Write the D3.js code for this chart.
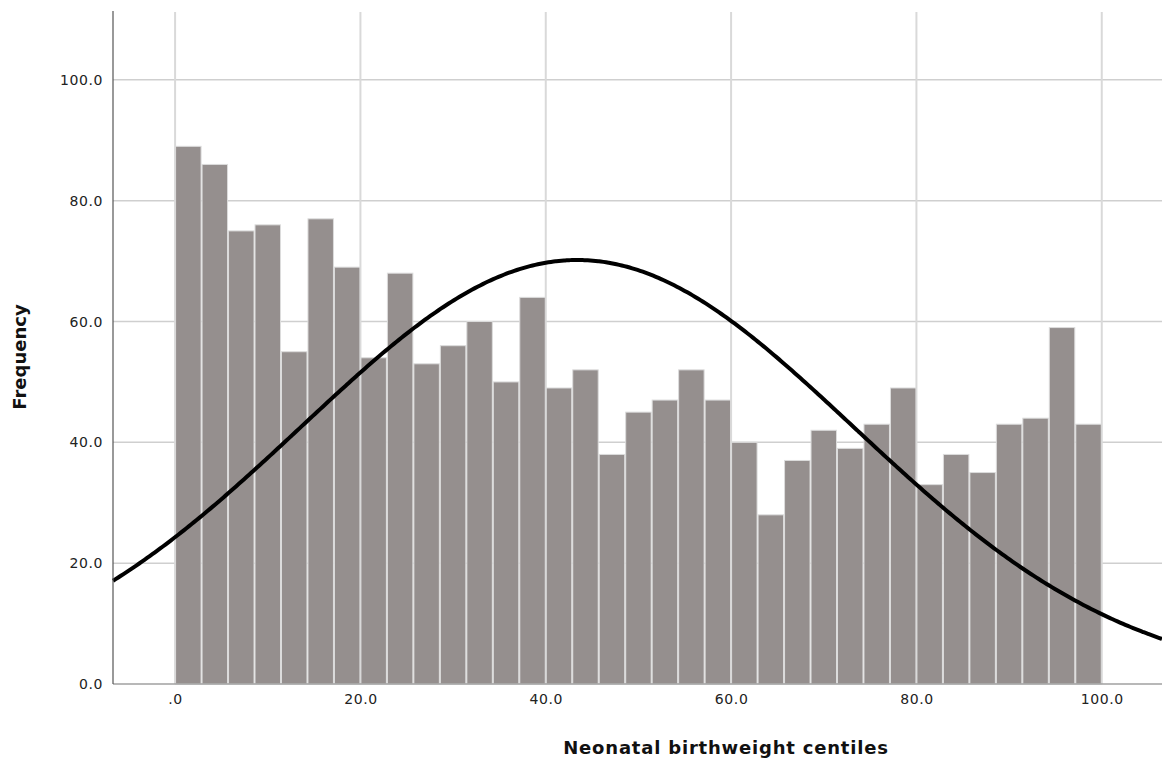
<!DOCTYPE html>
<html>
<head>
<meta charset="utf-8">
<script src="https://cdn.jsdelivr.net/npm/d3@7"></script>
<style>
  html, body { margin: 0; padding: 0; background: #fff; }
  svg { display: block; }
</style>
</head>
<body>
<svg id="chart" width="1162" height="762"></svg>
<script>
// Histogram of neonatal birthweight centiles (35 bins from 0 to 100)
const binStart = 0;
const binEnd = 100;
const frequencies = [89, 86, 75, 76, 55, 77, 69, 54, 68, 53, 56, 60, 50, 64, 49, 52, 38, 45,
                     47, 52, 47, 40, 28, 37, 42, 39, 43, 49, 33, 38, 35, 43, 44, 59, 43];
const xTicks = [0, 20, 40, 60, 80, 100];
const yTicks = [0, 20, 40, 60, 80, 100];
// Fitted normal curve parameters
const curveMean = 43.4;
const curveSD = 29.8;

const svg = d3.select("#chart");
const plotLeft = 113, plotRight = 1162, plotTop = 11, plotBottom = 684;

const x = d3.scaleLinear().domain([-6.7, 106.5]).range([plotLeft, plotRight]);
const y = d3.scaleLinear().domain([0, 111.4]).range([plotBottom, plotTop]);

const binWidth = (binEnd - binStart) / frequencies.length;
const bins = frequencies.map((f, i) => ({ x0: binStart + i * binWidth, x1: binStart + (i + 1) * binWidth, f }));

// Grid lines
svg.append("g").selectAll("line").data(yTicks.filter(d => d > 0)).join("line")
  .attr("x1", plotLeft).attr("x2", plotRight)
  .attr("y1", d => y(d)).attr("y2", d => y(d))
  .attr("stroke", "#cfcfcf").attr("stroke-width", 1.5);
svg.append("g").selectAll("line").data(xTicks).join("line")
  .attr("x1", d => x(d)).attr("x2", d => x(d))
  .attr("y1", plotTop + 1).attr("y2", plotBottom)
  .attr("stroke", "#d9d9d9").attr("stroke-width", 2);

// Bars
svg.append("g").selectAll("rect").data(bins).join("rect")
  .attr("x", d => x(d.x0) + 0.5)
  .attr("width", d => x(d.x1) - x(d.x0) - 1)
  .attr("y", d => y(d.f))
  .attr("height", d => y(0) - y(d.f))
  .attr("fill", "#958f8e")
  .attr("stroke", "#dcdcdc").attr("stroke-width", 1);

// Normal curve
const total = d3.sum(frequencies);
const scaleFactor = total * binWidth / (curveSD * Math.sqrt(2 * Math.PI));
const xs = d3.range(0, 401).map(i => -6.7 + i * (106.5 + 6.7) / 400);
const line = d3.line()
  .x(d => x(d))
  .y(d => y(scaleFactor * Math.exp(-0.5 * ((d - curveMean) / curveSD) ** 2)))
  .curve(d3.curveBasis);
svg.append("path").datum(xs)
  .attr("d", line)
  .attr("fill", "none").attr("stroke", "#000").attr("stroke-width", 4);

// Axes frame
const xAxis = d3.axisBottom(x).tickValues(xTicks).tickSize(0).tickPadding(10)
  .tickFormat(d => d === 0 ? ".0" : d3.format(".1f")(d));
const yAxis = d3.axisLeft(y).tickValues(yTicks).tickSize(0).tickPadding(10)
  .tickFormat(d3.format(".1f"));

const gx = svg.append("g").attr("transform", `translate(0,${plotBottom})`).call(xAxis);
gx.select(".domain").remove();
svg.append("line").attr("x1", plotLeft).attr("x2", plotRight).attr("y1", plotBottom).attr("y2", plotBottom)
  .attr("stroke", "#a0a0a0").attr("stroke-width", 1.5);

const gy = svg.append("g").attr("transform", `translate(${plotLeft},0)`).call(yAxis);
gy.select(".domain").remove();
svg.append("line").attr("x1", plotLeft).attr("x2", plotLeft).attr("y1", plotTop).attr("y2", plotBottom)
  .attr("stroke", "#555").attr("stroke-width", 1.2);

svg.selectAll(".tick text")
  .attr("font-family", "DejaVu Sans, sans-serif")
  .attr("font-size", 14).attr("letter-spacing", 0.6).attr("fill", "#222");

// Axis titles
svg.append("text")
  .attr("x", 726).attr("y", 754)
  .attr("text-anchor", "middle")
  .attr("font-family", "DejaVu Sans, sans-serif").attr("font-weight", "bold")
  .attr("font-size", 18).attr("letter-spacing", 0.8).attr("fill", "#111")
  .text("Neonatal birthweight centiles");

svg.append("text")
  .attr("transform", `translate(26,357) rotate(-90)`)
  .attr("text-anchor", "middle")
  .attr("font-family", "DejaVu Sans, sans-serif").attr("font-weight", "bold")
  .attr("font-size", 18).attr("fill", "#111")
  .text("Frequency");
</script>
</body>
</html>
